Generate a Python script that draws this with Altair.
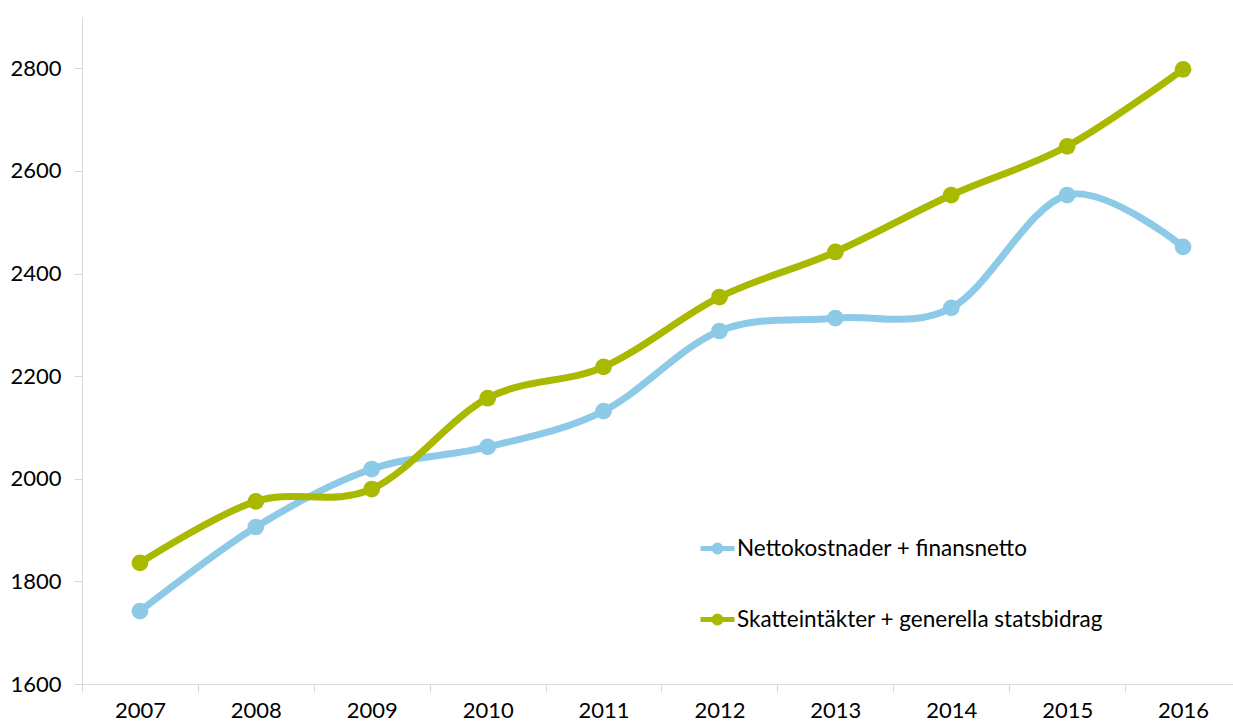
import altair as alt
import pandas as pd

years = [2007, 2008, 2009, 2010, 2011, 2012, 2013, 2014, 2015, 2016]
netto = [1742, 1906, 2019, 2062, 2132, 2288, 2313, 2333, 2553, 2452]
skatt = [1836, 1956, 1980, 2157, 2218, 2354, 2442, 2553, 2648, 2798]
series_names = ["Nettokostnader + finansnetto", "Skatteintäkter + generella statsbidrag"]
series_colors = ["#8DCAE8", "#A9B900"]
y_ticks = [1600, 1800, 2000, 2200, 2400, 2600, 2800]
x_ticks = [y - 0.5 for y in years]

rows = []
for name, vals in zip(series_names, [netto, skatt]):
    for yr, v in zip(years, vals):
        rows.append({"year": yr, "value": v, "series": name})
df = pd.DataFrame(rows)

FONT = "Lato"
W, H = 1151, 667
step = 115.9
x_min = 2006.5
x_max = x_min + W / step

color = alt.Color(
    "series:N",
    scale=alt.Scale(domain=series_names, range=series_colors),
    legend=alt.Legend(
        title=None,
        orient="none",
        legendX=616,
        legendY=512,
        direction="vertical",
        symbolType="M-1,0H-0.2M0.2,0H1M-0.2,0A0.2,0.2 0 1,1 0.2,0A0.2,0.2 0 1,1 -0.2,0",
        symbolSize=1156,
        symbolStrokeWidth=5,
        labelFont=FONT,
        labelFontSize=22.5,
        labelColor="#000000",
        labelOffset=0,
        rowPadding=38,
        padding=0,
        labelLimit=600,
    ),
)

x = alt.X(
    "year:Q",
    scale=alt.Scale(domain=[x_min, x_max], nice=False, zero=False),
    axis=alt.Axis(
        title=None,
        values=x_ticks,
        labelExpr="format(datum.value + 0.5, 'd')",
        labelOffset=step / 2,
        grid=False,
        tickSize=8,
        tickColor="#d9d9d9",
        domainColor="#d9d9d9",
        labelPadding=8,
        labelFont=FONT,
        labelFontSize=22,
        labelColor="#000000",
        labelOverlap=False,
        labelFlush=False,
        labelBound=False,
    ),
)
y = alt.Y(
    "value:Q",
    scale=alt.Scale(domain=[1600, 2900], nice=False, zero=False),
    axis=alt.Axis(
        title=None,
        values=y_ticks,
        format="d",
        grid=False,
        tickSize=8,
        tickColor="#d9d9d9",
        domainColor="#d9d9d9",
        labelPadding=13,
        labelFont=FONT,
        labelFontSize=22,
        labelColor="#000000",
    ),
)

line = alt.Chart(df).mark_line(strokeWidth=7, interpolate="cardinal").encode(
    x=x, y=y, color=color, order="year:Q"
)
pts = alt.Chart(df).mark_circle(size=280, opacity=1).encode(
    x=x, y=y, color=alt.Color("series:N", scale=alt.Scale(domain=series_names, range=series_colors), legend=None)
)

chart = (
    alt.layer(line, pts)
    .properties(
        width=W,
        height=H,
        autosize=alt.AutoSizeParams(type="none"),
        padding={"left": 82, "top": 17, "right": 0, "bottom": 40},
        background="white",
    )
    .configure_view(stroke=None)
)

chart.save("out.html", embed_options={"renderer": "svg", "actions": False})
